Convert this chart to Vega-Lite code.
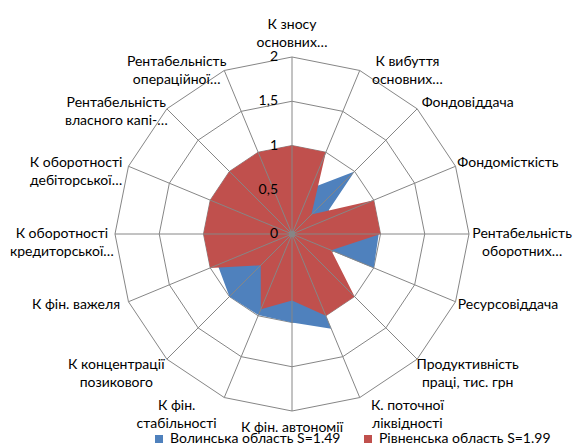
{
  "$schema": "https://vega.github.io/schema/vega-lite/v6.json",
  "width": 574,
  "height": 445,
  "padding": 0,
  "autosize": {"type": "none"},
  "background": "white",
  "config": {"view": {"stroke": null}, "font": "Lato"},
  "datasets": {
    "axes": [
      {"idx": 0, "label": "К зносу\nосновних…", "levels": [0.5, 1, 1.5, 2]},
      {"idx": 1, "label": "К вибуття\nосновних…", "levels": [0.5, 1, 1.5, 2]},
      {"idx": 2, "label": "Фондовіддача", "levels": [0.5, 1, 1.5, 2]},
      {"idx": 3, "label": "Фондомісткість", "levels": [0.5, 1, 1.5, 2]},
      {"idx": 4, "label": "Рентабельність\nоборотних…", "levels": [0.5, 1, 1.5, 2]},
      {"idx": 5, "label": "Ресурсовіддача", "levels": [0.5, 1, 1.5, 2]},
      {"idx": 6, "label": "Продуктивність\nпраці, тис. грн", "levels": [0.5, 1, 1.5, 2]},
      {"idx": 7, "label": "К. поточної\nліквідності", "levels": [0.5, 1, 1.5, 2]},
      {"idx": 8, "label": "К  фін.  автономії", "levels": [0.5, 1, 1.5, 2]},
      {"idx": 9, "label": "К фін.\nстабільності", "levels": [0.5, 1, 1.5, 2]},
      {"idx": 10, "label": "К концентрації\nпозикового", "levels": [0.5, 1, 1.5, 2]},
      {"idx": 11, "label": "К фін. важеля", "levels": [0.5, 1, 1.5, 2]},
      {"idx": 12, "label": "К оборотності\nкредиторської…", "levels": [0.5, 1, 1.5, 2]},
      {"idx": 13, "label": "К оборотності\nдебіторської…", "levels": [0.5, 1, 1.5, 2]},
      {"idx": 14, "label": "Рентабельність\nвласного капі-…", "levels": [0.5, 1, 1.5, 2]},
      {"idx": 15, "label": "Рентабельність\nопераційної…", "levels": [0.5, 1, 1.5, 2]}
    ],
    "ticks": [
      {"level": 0, "text": "0"},
      {"level": 0.5, "text": "0,5"},
      {"level": 1, "text": "1"},
      {"level": 1.5, "text": "1,5"},
      {"level": 2, "text": "2"}
    ],
    "values": [
      {"idx": 0, "series": "Волинська область S=1.49", "value": 0.7},
      {"idx": 1, "series": "Волинська область S=1.49", "value": 0.56},
      {"idx": 2, "series": "Волинська область S=1.49", "value": 1.0},
      {"idx": 3, "series": "Волинська область S=1.49", "value": 0.35},
      {"idx": 4, "series": "Волинська область S=1.49", "value": 0.98},
      {"idx": 5, "series": "Волинська область S=1.49", "value": 1.0},
      {"idx": 6, "series": "Волинська область S=1.49", "value": 0.02},
      {"idx": 7, "series": "Волинська область S=1.49", "value": 1.16},
      {"idx": 8, "series": "Волинська область S=1.49", "value": 1.0},
      {"idx": 9, "series": "Волинська область S=1.49", "value": 0.99},
      {"idx": 10, "series": "Волинська область S=1.49", "value": 1.0},
      {"idx": 11, "series": "Волинська область S=1.49", "value": 0.91},
      {"idx": 12, "series": "Волинська область S=1.49", "value": 0.7},
      {"idx": 13, "series": "Волинська область S=1.49", "value": 0.7},
      {"idx": 14, "series": "Волинська область S=1.49", "value": 0.7},
      {"idx": 15, "series": "Волинська область S=1.49", "value": 0.7},
      {"idx": 0, "series": "Рівненська область S=1.99", "value": 1.0},
      {"idx": 1, "series": "Рівненська область S=1.99", "value": 1.0},
      {"idx": 2, "series": "Рівненська область S=1.99", "value": 0.31},
      {"idx": 3, "series": "Рівненська область S=1.99", "value": 1.0},
      {"idx": 4, "series": "Рівненська область S=1.99", "value": 1.0},
      {"idx": 5, "series": "Рівненська область S=1.99", "value": 0.48},
      {"idx": 6, "series": "Рівненська область S=1.99", "value": 1.0},
      {"idx": 7, "series": "Рівненська область S=1.99", "value": 1.0},
      {"idx": 8, "series": "Рівненська область S=1.99", "value": 0.75},
      {"idx": 9, "series": "Рівненська область S=1.99", "value": 0.92},
      {"idx": 10, "series": "Рівненська область S=1.99", "value": 0.5},
      {"idx": 11, "series": "Рівненська область S=1.99", "value": 1.0},
      {"idx": 12, "series": "Рівненська область S=1.99", "value": 1.0},
      {"idx": 13, "series": "Рівненська область S=1.99", "value": 1.0},
      {"idx": 14, "series": "Рівненська область S=1.99", "value": 1.0},
      {"idx": 15, "series": "Рівненська область S=1.99", "value": 1.0}
    ]
  },
  "layer": [
    {
      "data": {"name": "axes"},
      "transform": [
        {"flatten": ["levels"]},
        {"calculate": "datum.idx * PI / 8", "as": "a"},
        {"calculate": "datum.levels * sin(datum.a)", "as": "px"},
        {"calculate": "datum.levels * cos(datum.a)", "as": "py"}
      ],
      "mark": {"type": "line", "interpolate": "linear-closed", "stroke": "#868686", "strokeWidth": 1},
      "encoding": {
        "x": {"field": "px", "type": "quantitative", "scale": {"domain": [-3.2994, 3.1864], "nice": false, "zero": false}, "axis": null},
        "y": {"field": "py", "type": "quantitative", "scale": {"domain": [-2.384, 2.644], "nice": false, "zero": false}, "axis": null},
        "detail": {"field": "levels", "type": "nominal"},
        "order": {"field": "idx", "type": "quantitative"}
      }
    },
    {
      "data": {"name": "values"},
      "transform": [
        {"calculate": "datum.idx * PI / 8", "as": "a"},
        {"calculate": "datum.value * sin(datum.a)", "as": "px"},
        {"calculate": "datum.value * cos(datum.a)", "as": "py"}
      ],
      "mark": {"type": "line", "interpolate": "linear-closed", "strokeWidth": 0, "fillOpacity": 1},
      "encoding": {
        "x": {"field": "px", "type": "quantitative"},
        "y": {"field": "py", "type": "quantitative"},
        "fill": {
          "field": "series", "type": "nominal",
          "scale": {"domain": ["Волинська область S=1.49", "Рівненська область S=1.99"], "range": ["#4F81BD", "#C0504D"]},
          "legend": {
            "title": null, "orient": "none", "legendX": 152, "legendY": 432, "direction": "horizontal",
            "symbolType": "square", "symbolSize": 64, "symbolStrokeWidth": 0,
            "labelFont": "Lato", "labelFontSize": 14, "labelColor": "#000000", "labelOffset": 4,
            "columnPadding": 20, "padding": 0, "labelLimit": 300
          }
        },
        "order": {"field": "idx", "type": "quantitative"}
      }
    },
    {
      "data": {"name": "axes"},
      "transform": [
        {"calculate": "datum.idx * PI / 8", "as": "a"},
        {"calculate": "0", "as": "zx"},
        {"calculate": "2 * sin(datum.a)", "as": "ex"},
        {"calculate": "2 * cos(datum.a)", "as": "ey"}
      ],
      "mark": {"type": "rule", "stroke": "#868686", "strokeWidth": 1},
      "encoding": {
        "x": {"field": "zx", "type": "quantitative"},
        "y": {"field": "zx", "type": "quantitative"},
        "x2": {"field": "ex"},
        "y2": {"field": "ey"}
      }
    },
    {
      "data": {"name": "ticks"},
      "transform": [{"filter": "datum.level == 0"}],
      "mark": {"type": "point", "filled": true, "color": "#868686", "size": 40, "opacity": 1},
      "encoding": {
        "x": {"field": "level", "type": "quantitative"},
        "y": {"field": "level", "type": "quantitative"}
      }
    },
    {
      "data": {"name": "ticks"},
      "transform": [{"calculate": "0", "as": "zx"}],
      "mark": {"type": "text", "align": "right", "baseline": "middle", "fontSize": 14, "font": "Lato", "color": "#000000", "dx": -14},
      "encoding": {
        "x": {"field": "zx", "type": "quantitative"},
        "y": {"field": "level", "type": "quantitative"},
        "text": {"field": "text", "type": "nominal"}
      }
    },
    {
      "data": {"name": "axes"},
      "transform": [
        {"calculate": "datum.idx * PI / 8", "as": "a"},
        {"calculate": "2.1 * sin(datum.a) + (sin(datum.a) > 0.01 ? 0.5 : (sin(datum.a) < -0.01 ? -0.5 : 0))", "as": "lx"},
        {"calculate": "2.1 * cos(datum.a) + (cos(datum.a) > 0.99 ? 0.26 : (cos(datum.a) < -0.99 ? -0.09 : 0))", "as": "ly"}
      ],
      "mark": {"type": "text", "align": "center", "baseline": "middle", "fontSize": 14, "font": "Lato", "color": "#000000", "lineBreak": "\n", "lineHeight": 18},
      "encoding": {
        "x": {"field": "lx", "type": "quantitative"},
        "y": {"field": "ly", "type": "quantitative"},
        "text": {"field": "label", "type": "nominal"}
      }
    }
  ]
}
